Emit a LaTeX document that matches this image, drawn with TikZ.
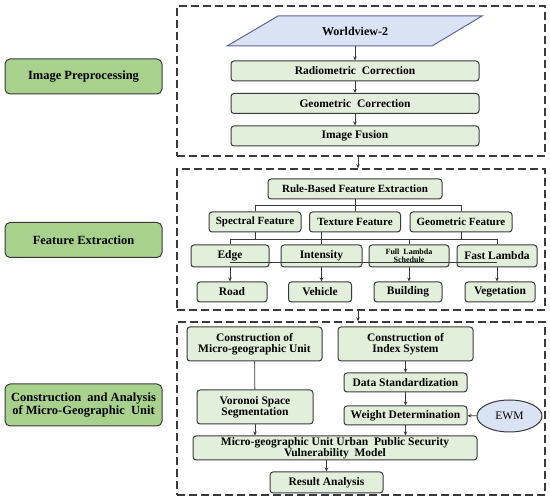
\documentclass[tikz,border=0pt]{standalone}
\usepackage{fontspec}
\setmainfont{Liberation Serif}
\usetikzlibrary{shapes.geometric,arrows.meta}

\definecolor{verdeclaro}{HTML}{E2EFDA}
\definecolor{verde}{HTML}{A9D18E}
\definecolor{azulclaro}{HTML}{DAE3F3}
\definecolor{borde}{HTML}{3A3A3A}

\begin{document}
\begin{tikzpicture}[x=1pt,y=-1pt,
  paso/.style={draw=borde, fill=verdeclaro, rounded corners=3pt, line width=1pt,
    font=\bfseries\fontsize{11.5}{11}\selectfont, align=center, inner sep=0pt},
  etapa/.style={paso, fill=verde, rounded corners=5pt, minimum width=157pt,
    font=\bfseries\fontsize{12.5}{13}\selectfont},
  marco/.style={draw=borde, line width=1.4pt, dash pattern=on 8pt off 4pt, inner sep=0pt},
  flecha/.style={-{Stealth[length=4pt,width=3.5pt]}, line width=0.8pt, draw=borde},
  linea/.style={line width=0.8pt, draw=borde}
]
\useasboundingbox (0,0) rectangle (550,502);

% marcos
\node[marco, minimum width=368pt, minimum height=150pt] (f1) at (361,81) {};
\node[marco, minimum width=368pt, minimum height=141pt] (f2) at (361,239.5) {};
\node[marco, minimum width=368pt, minimum height=173pt] (f3) at (361,408.5) {};
\draw[flecha] ([xshift=-3pt]f1.south) -- ([xshift=-3pt]f2.north);
\draw[flecha] ([xshift=-3pt]f2.south) -- ([xshift=-3pt]f3.north);

% etapas a la izquierda
\node[etapa, minimum height=35pt] (pre) at (83.5,76.5) {Image Preprocessing};
\node[etapa, minimum height=35pt] (ext) at (83.5,240) {Feature Extraction};
\node[etapa, minimum height=42pt] (ana) at (83.5,405) {Construction \ and Analysis\\of Micro-Geographic \ Unit};

% preprocesamiento
\draw[draw=black!45!azulclaro!80!blue, fill=azulclaro, line width=1pt] (227,46) -- (278,16) -- (482,16) -- (432,46) -- cycle;
\node[font=\bfseries\fontsize{12}{12}\selectfont, minimum height=30pt, inner sep=0pt] (wv) at (355,31) {Worldview-2};
\node[paso, minimum width=248pt, minimum height=20pt] (rad) at (355,71) {Radiometric \ Correction};
\node[paso, minimum width=248pt, minimum height=20pt] (geo) at (355,103.5) {Geometric \ Correction};
\node[paso, minimum width=248pt, minimum height=20pt] (fus) at (355,136) {Image Fusion};
\draw[flecha] (wv) -- (rad);
\draw[flecha] (rad) -- (geo);
\draw[flecha] (geo) -- (fus);

% extraccion
\node[paso, minimum width=174pt, minimum height=20pt, font=\bfseries\fontsize{11}{11}\selectfont] (rbfe) at (355,189) {Rule-Based Feature Extraction};
\node[paso, minimum width=92pt, minimum height=20pt, font=\bfseries\fontsize{11}{11}\selectfont] (spec) at (255,222) {Spectral Feature};
\node[paso, minimum width=91pt, minimum height=20pt, font=\bfseries\fontsize{11}{11}\selectfont] (tex) at (355,222) {Texture Feature};
\node[paso, minimum width=102pt, minimum height=20pt, font=\bfseries\fontsize{11}{11}\selectfont] (geof) at (461,222) {Geometric Feature};
\draw[linea] (rbfe) -- (tex);
\draw[linea] (spec.north) -- ++(0,-6) -| (geof.north);

\node[paso, minimum width=78pt, minimum height=22pt] (edge) at (230,256) {Edge};
\node[paso, minimum width=81pt, minimum height=22pt] (inten) at (321.5,256) {Intensity};
\node[paso, minimum width=80pt, minimum height=22pt, font=\bfseries\fontsize{8}{8.5}\selectfont] (full) at (409,256) {Full \ Lambda\\Schedule};
\node[paso, minimum width=80pt, minimum height=22pt] (fast) at (497,256) {Fast Lambda};
\draw[linea] (edge.north) -- ++(0,-5) -| (fast.north);
\draw[linea] (full.north) -- ++(0,-5);
\draw[linea] (spec.south) -- ++(0,8);
\draw[linea] (geof.south) -- ++(0,8);
\draw[linea] (tex.south -| inten.north) -- (inten.north);

\node[paso, minimum width=70pt, minimum height=20pt] (road) at (232,292) {Road};
\node[paso, minimum width=63pt, minimum height=20pt] (veh) at (320,292) {Vehicle};
\node[paso, minimum width=68pt, minimum height=20pt] (build) at (408,292) {Building};
\node[paso, minimum width=70pt, minimum height=20pt] (veg) at (500,292) {Vegetation};
\foreach \a/\b in {edge/road, inten/veh, full/build, fast/veg}
  \draw[flecha] (\a.south) -- (\a.south |- \b.north);
\draw[linea] ([yshift=5pt]edge.south) -- ([yshift=5pt]edge.south -| fast.south);

% construccion y analisis
\node[paso, minimum width=135pt, minimum height=34pt] (cmu) at (254.5,344) {Construction of\\Micro-geographic Unit};
\node[paso, minimum width=135pt, minimum height=34pt] (cis) at (405.5,344) {Construction of\\Index System};
\node[paso, minimum width=116pt, minimum height=34pt] (vor) at (255,407) {Voronoi Space\\Segmentation};
\node[paso, minimum width=123pt, minimum height=19pt] (dat) at (405.5,382.5) {Data Standardization};
\node[paso, minimum width=123pt, minimum height=19pt] (wei) at (405.5,415.5) {Weight Determination};
\node[ellipse, draw=borde, fill=azulclaro, line width=1pt, minimum width=65pt, minimum height=32pt, inner sep=0pt,
  font=\fontsize{11.5}{11}\selectfont] (ewm) at (509.5,416) {EWM};
\node[paso, minimum width=284pt, minimum height=24pt] (mod) at (335,448) {Micro-geographic Unit Urban \ Public Security\\Vulnerability \ Model};
\node[paso, minimum width=113pt, minimum height=21pt] (res) at (326.5,482.5) {Result Analysis};

\draw[linea] (cmu) -- (vor);
\draw[flecha] (cis) -- (dat);
\draw[flecha] (dat) -- (wei);
\draw[flecha] (ewm) -- (wei);
\draw[flecha] (vor.south) -- (vor.south |- mod.north);
\draw[flecha] (wei.south) -- (wei.south |- mod.north);
\draw[flecha] (res.north |- mod.south) -- (res.north);

\end{tikzpicture}
\end{document}
